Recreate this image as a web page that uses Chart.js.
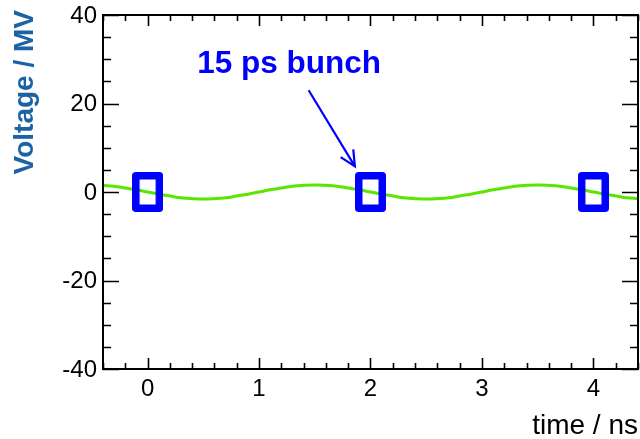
<!DOCTYPE html>
<html lang="en">
<head>
<meta charset="UTF-8">
<title>Voltage vs time</title>
<script src="https://cdn.jsdelivr.net/npm/chart.js"></script>
<style>
    html, body { margin: 0; padding: 0; background: #fff; }
    .chart-container { width: 640px; height: 439px; }
</style>
</head>
<body>
<div class="chart-container">
    <canvas id="voltageChart" width="640" height="439"></canvas>
</div>
<script>
// wave (ns, MV)
const timeNs = [-0.4, -0.3, -0.2, -0.1, 0.0, 0.1, 0.2, 0.3, 0.4, 0.5, 0.6, 0.7, 0.8, 0.9,
    1.0, 1.1, 1.2, 1.3, 1.4, 1.5, 1.6, 1.7, 1.8, 1.9, 2.0, 2.1, 2.2, 2.3, 2.4, 2.5, 2.6, 2.7,
    2.8, 2.9, 3.0, 3.1, 3.2, 3.3, 3.4, 3.5, 3.6, 3.7, 3.8, 3.9, 4.0, 4.1, 4.2, 4.3, 4.4];
const voltageMV = [1.5, 1.3, 0.9, 0.5, 0.0, -0.5, -0.9, -1.3, -1.5, -1.6, -1.5, -1.3, -0.9, -0.5,
    0.0, 0.5, 0.9, 1.3, 1.5, 1.6, 1.5, 1.3, 0.9, 0.5, 0.0, -0.5, -0.9, -1.3, -1.5, -1.6, -1.5, -1.3,
    -0.9, -0.5, 0.0, 0.5, 0.9, 1.3, 1.5, 1.6, 1.5, 1.3, 0.9, 0.5, 0.0, -0.5, -0.9, -1.3, -1.5];

// bunch positions
const bunchTimes = [0, 2, 4];
const bunchVoltages = [0, 0, 0];

// axes
const xTicks = [0, 1, 2, 3, 4];
const yTicks = [-40, -20, 0, 20, 40];
const xRange = [-0.4, 4.4];
const yRange = [-40, 40];
const xMinorStep = 0.2;
const yMinorStep = 5;

const xTitle = 'time / ns';
const yTitle = 'Voltage / MV';
const noteText = '15 ps bunch';
const noteAt = { x: 1.27, y: 27 };
const arrowFrom = { x: 1.445, y: 23 };
const arrowTo = { x: 1.86, y: 5.8 };

// open blue box used as the bunch marker
function makeBox() {
    const c = document.createElement('canvas');
    c.width = 31; c.height = 40;
    const g = c.getContext('2d');
    g.strokeStyle = '#0000ff';
    g.lineWidth = 7.5;
    g.lineJoin = 'round';
    g.strokeRect(3.75, 3.75, 23.5, 32.5);
    return c;
}

const framePlugin = {
    id: 'frame',
    afterDraw(chart) {
        const ctx = chart.ctx;
        const a = chart.chartArea;
        const xs = chart.scales.x, ys = chart.scales.y;
        ctx.save();
        ctx.strokeStyle = '#000';
        ctx.lineWidth = 2;
        ctx.strokeRect(a.left, a.top, a.right - a.left, a.bottom - a.top);

        ctx.lineWidth = 1.6;
        ctx.beginPath();
        // x ticks, bottom and top, pointing inward
        for (let v = Math.ceil(xRange[0] / xMinorStep) * xMinorStep; v <= xRange[1] + 1e-9; v += xMinorStep) {
            const major = Math.abs(v - Math.round(v)) < 1e-6;
            const len = major ? 11 : 6;
            const px = Math.round(xs.getPixelForValue(v)) + 0.5;
            ctx.moveTo(px, a.bottom); ctx.lineTo(px, a.bottom - len);
            ctx.moveTo(px, a.top); ctx.lineTo(px, a.top + len);
        }
        // y ticks, left and right
        for (let v = yRange[0]; v <= yRange[1]; v += yMinorStep) {
            const major = v % 20 === 0;
            const len = major ? 16 : 8;
            const py = Math.round(ys.getPixelForValue(v)) + 0.5;
            ctx.moveTo(a.left, py); ctx.lineTo(a.left + len, py);
            ctx.moveTo(a.right, py); ctx.lineTo(a.right - len, py);
        }
        ctx.stroke();

        ctx.fillStyle = '#000';
        ctx.font = '24px "Liberation Sans", Arial, sans-serif';
        ctx.textAlign = 'center';
        ctx.textBaseline = 'top';
        xTicks.forEach(v => ctx.fillText(String(v), xs.getPixelForValue(v), a.bottom + 8));
        ctx.textAlign = 'right';
        ctx.textBaseline = 'middle';
        yTicks.forEach(v => ctx.fillText(String(v), a.left - 6, ys.getPixelForValue(v) + 1));

        ctx.font = '28px "Liberation Sans", Arial, sans-serif';
        ctx.textAlign = 'right';
        ctx.textBaseline = 'alphabetic';
        ctx.fillText(xTitle, a.right, 434);

        ctx.save();
        ctx.translate(33, 10);
        ctx.rotate(-Math.PI / 2);
        ctx.fillStyle = '#1c63a6';
        ctx.font = 'bold 28px "Liberation Sans", Arial, sans-serif';
        ctx.textAlign = 'right';
        ctx.fillText(yTitle, 0, 0);
        ctx.restore();

        // annotation
        ctx.fillStyle = '#0000ff';
        ctx.font = 'bold 31.5px "Liberation Sans", Arial, sans-serif';
        ctx.textAlign = 'center';
        ctx.fillText(noteText, xs.getPixelForValue(noteAt.x), ys.getPixelForValue(noteAt.y));

        const x0 = xs.getPixelForValue(arrowFrom.x), y0 = ys.getPixelForValue(arrowFrom.y);
        const x1 = xs.getPixelForValue(arrowTo.x), y1 = ys.getPixelForValue(arrowTo.y);
        const ang = Math.atan2(y1 - y0, x1 - x0);
        ctx.strokeStyle = '#0000ff';
        ctx.lineWidth = 2.2;
        ctx.beginPath();
        ctx.moveTo(x0, y0); ctx.lineTo(x1, y1);
        ctx.moveTo(x1 - 17 * Math.cos(ang - 0.45), y1 - 17 * Math.sin(ang - 0.45));
        ctx.lineTo(x1, y1);
        ctx.lineTo(x1 - 17 * Math.cos(ang + 0.45), y1 - 17 * Math.sin(ang + 0.45));
        ctx.stroke();
        ctx.restore();
    }
};

new Chart(document.getElementById('voltageChart'), {
    type: 'line',
    data: {
        datasets: [
            {
                label: 'bunch',
                data: bunchTimes.map((t, i) => ({ x: t, y: bunchVoltages[i] })),
                showLine: false,
                pointStyle: makeBox(),
                order: 0
            },
            {
                label: 'voltage',
                data: timeNs.map((t, i) => ({ x: t, y: voltageMV[i] })),
                borderColor: '#5ae600',
                borderWidth: 3,
                pointRadius: 0,
                tension: 0.4,
                order: 1
            }
        ]
    },
    options: {
        responsive: false,
        animation: false,
        devicePixelRatio: 1,
        layout: { autoPadding: false, padding: { left: 103, right: 2, top: 15, bottom: 70 } },
        plugins: { legend: { display: false }, tooltip: { enabled: false } },
        scales: {
            x: { type: 'linear', min: xRange[0], max: xRange[1], display: false },
            y: { type: 'linear', min: yRange[0], max: yRange[1], display: false }
        }
    },
    plugins: [framePlugin]
});
</script>
</body>
</html>
